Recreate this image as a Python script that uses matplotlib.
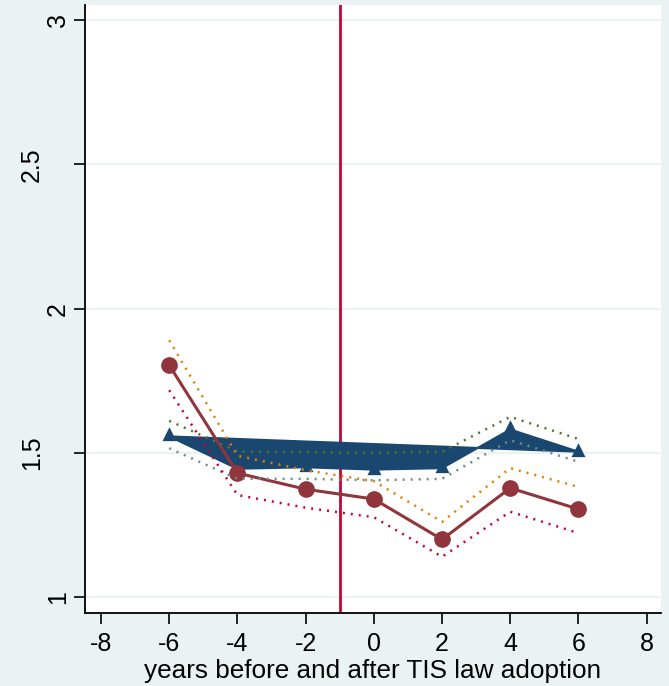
import matplotlib
matplotlib.use("Agg")
import matplotlib.pyplot as plt
from matplotlib.transforms import ScaledTranslation

plt.rcParams['font.family'] = ['Liberation Sans', 'DejaVu Sans']

years = [-6, -4, -2, 0, 2, 4, 6]

# series A (navy, triangles) with its confidence band
est_a = [1.557, 1.445, 1.450, 1.442, 1.447, 1.581, 1.504]
hi_a = [1.611, 1.505, 1.502, 1.500, 1.504, 1.625, 1.548]
lo_a = [1.516, 1.410, 1.410, 1.405, 1.410, 1.544, 1.469]

# series B (maroon, circles) with its confidence band
est_b = [1.804, 1.430, 1.374, 1.340, 1.200, 1.378, 1.305]
hi_b = [1.890, 1.490, 1.440, 1.402, 1.261, 1.447, 1.382]
lo_b = [1.717, 1.354, 1.310, 1.277, 1.140, 1.296, 1.222]

adoption_line = -1
x_ticks = [-8, -6, -4, -2, 0, 2, 4, 6, 8]
y_ticks = [1, 1.5, 2, 2.5, 3]
y_tick_labels = ["1", "1.5", "2", "2.5", "3"]
x_title = "years before and after TIS law adoption"

navy = "#1a476f"
maroon = "#90353b"
forest = "#55752f"
dkorange = "#e37e00"
teal = "#6e8e84"
cranberry = "#c10534"
bg = "#eaf2f3"

# triangle centred on its centroid
tri = [(0, 2 / 3), (-0.5, -1 / 3), (0.5, -1 / 3), (0, 2 / 3)]

fig = plt.figure(figsize=(6.69, 6.86), dpi=100, facecolor=bg)
ax = fig.add_axes([0.127, 0.1064, 0.861, 0.8863])
ax.set_facecolor("white")

ax.set_xlim(-8.47, 8.42)
ax.set_ylim(0.945, 3.052)

for yv in y_ticks:
    ax.axhline(yv, color=bg, lw=1.5, zorder=1)

ax.axvline(adoption_line, color=cranberry, lw=2, zorder=2)

# series A drawn as a closed filled path
ax.fill(years, est_a, facecolor=navy, edgecolor=navy, lw=1.5, zorder=3)
ax.plot(years, est_a, ls="none", marker=tri, ms=13.4, color=navy,
        markeredgewidth=0, zorder=3)

ax.plot(years, est_b, color=maroon, lw=2.2, marker="o", ms=11, zorder=4)

dot = dict(ls=(0, (0.8, 2.4)), lw=1.8, zorder=5)
ax.plot(years, hi_a, color=forest, **dot)
ax.plot(years, lo_a, color=teal, **dot)
ax.plot(years, hi_b, color=dkorange, **dot)
ax.plot(years, lo_b, color=cranberry, **dot)

ax.set_xticks(x_ticks)
ax.set_xticklabels([str(v) for v in x_ticks])
ax.set_yticks(y_ticks)
ax.set_yticklabels(y_tick_labels, rotation=90, va="center")
ax.tick_params(axis="both", direction="out", length=8, width=1.2,
               labelsize=18, color="black")
ax.tick_params(axis="x", pad=6)
ax.tick_params(axis="y", pad=3)

# longer rotated labels sit further out from the axis
for lab in ax.get_yticklabels():
    if len(lab.get_text()) > 1:
        lab.set_transform(lab.get_transform()
                          + ScaledTranslation(-0.26, 0, fig.dpi_scale_trans))

for side in ("top", "right"):
    ax.spines[side].set_visible(False)
for side in ("left", "bottom"):
    ax.spines[side].set_linewidth(1.3)

ax.set_xlabel(x_title, fontsize=18.8, labelpad=2)

fig.savefig("out.png", dpi=100, facecolor=bg)
